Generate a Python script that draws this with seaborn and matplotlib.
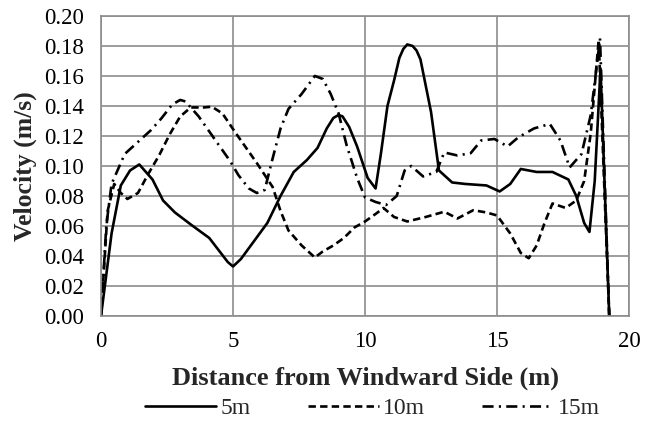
import matplotlib
matplotlib.use("Agg")
import matplotlib.pyplot as plt
import seaborn as sns
import pandas as pd

# Velocity profiles across the building at three heights
x_5m = [0.0, 0.4, 0.75, 1.1, 1.45, 1.95, 2.35, 2.8, 3.4, 4.1, 4.45, 4.8, 5.0, 5.3,
        5.8, 6.3, 6.8, 7.3, 7.8, 8.2, 8.55, 8.8, 9.0, 9.15, 9.4, 9.7, 10.1, 10.4,
        10.6, 10.85, 11.1, 11.3, 11.45, 11.6, 11.8, 11.95, 12.1, 12.5, 12.8, 13.3,
        13.8, 14.6, 15.1, 15.5, 15.9, 16.5, 17.1, 17.7, 18.0, 18.3, 18.5, 18.7,
        18.92, 19.25]
v_5m = [0.0, 0.055, 0.087, 0.097, 0.101, 0.091, 0.077, 0.069, 0.061, 0.052, 0.044,
        0.036, 0.033, 0.038, 0.050, 0.062, 0.080, 0.096, 0.104, 0.112, 0.125, 0.132,
        0.134, 0.133, 0.126, 0.113, 0.092, 0.085, 0.108, 0.140, 0.157, 0.172, 0.178,
        0.181, 0.180, 0.177, 0.171, 0.136, 0.097, 0.089, 0.088, 0.087, 0.083, 0.088,
        0.098, 0.096, 0.096, 0.091, 0.080, 0.062, 0.056, 0.090, 0.165, 0.0]

x_10m = [0.0, 0.25, 0.5, 0.75, 1.0, 1.4, 1.8, 2.2, 2.6, 3.0, 3.4, 3.9, 4.2, 4.6,
         5.1, 5.5, 5.9, 6.5, 6.8, 7.1, 7.6, 8.1, 8.4, 8.8, 9.2, 9.6, 10.0, 10.4,
         10.7, 11.1, 11.6, 12.3, 13.0, 13.5, 14.1, 14.6, 15.0, 15.5, 15.9, 16.2,
         16.5, 16.8, 17.1, 17.6, 18.0, 18.3, 18.55, 18.85, 19.25]
v_10m = [0.0, 0.070, 0.088, 0.082, 0.078, 0.082, 0.095, 0.107, 0.121, 0.133, 0.139,
         0.139, 0.1395, 0.135, 0.122, 0.112, 0.102, 0.086, 0.070, 0.057, 0.047, 0.039,
         0.043, 0.047, 0.052, 0.059, 0.063, 0.068, 0.072, 0.066, 0.063, 0.066, 0.0695,
         0.065, 0.0705, 0.069, 0.067, 0.055, 0.042, 0.0385, 0.047, 0.062, 0.075, 0.072,
         0.077, 0.090, 0.122, 0.184, 0.0]

x_15m = [0.0, 0.2, 0.4, 0.7, 0.9, 1.4, 1.9, 2.3, 2.7, 3.0, 3.2, 3.7, 4.1, 4.5, 4.9,
         5.2, 5.6, 5.9, 6.2, 6.5, 6.8, 7.1, 7.6, 8.1, 8.4, 8.7, 9.0, 9.3, 9.7, 10.0,
         10.4, 10.8, 11.2, 11.5, 11.75, 12.2, 12.7, 13.0, 13.5, 14.0, 14.4, 14.9,
         15.4, 15.8, 16.4, 17.0, 17.4, 17.75, 18.2, 18.55, 18.9, 19.25]
v_15m = [0.0, 0.060, 0.088, 0.100, 0.108, 0.116, 0.124, 0.132, 0.141, 0.144, 0.143,
         0.133, 0.123, 0.113, 0.103, 0.094, 0.085, 0.082, 0.084, 0.105, 0.125, 0.138,
         0.148, 0.160, 0.158, 0.148, 0.135, 0.114, 0.092, 0.079, 0.076, 0.074, 0.080,
         0.097, 0.100, 0.093, 0.096, 0.109, 0.107, 0.1085, 0.117, 0.118, 0.113, 0.119,
         0.125, 0.128, 0.117, 0.099, 0.108, 0.134, 0.185, 0.0]

series_names = ["5m", "10m", "15m"]
x_ticks = [0, 5, 10, 15, 20]
y_ticks = [0.00, 0.02, 0.04, 0.06, 0.08, 0.10, 0.12, 0.14, 0.16, 0.18, 0.20]

frames = []
for name, xs, vs in zip(series_names, [x_5m, x_10m, x_15m], [v_5m, v_10m, v_15m]):
    frames.append(pd.DataFrame({"x": xs, "v": vs, "Height": name}))
df = pd.concat(frames, ignore_index=True)

sns.set_theme(style="white")
plt.rcParams["font.family"] = ["Liberation Serif", "DejaVu Serif"]

fig = plt.figure(figsize=(6.58, 4.25), dpi=100)
ax = fig.add_axes([0.1535, 0.2565, 0.8025, 0.706])

dash_styles = {"5m": "", "10m": (2.8, 1.6), "15m": (4.2, 2.0, 0.8, 2.0)}
sns.lineplot(data=df, x="x", y="v", hue="Height", style="Height",
             palette={n: "black" for n in series_names}, dashes=dash_styles,
             estimator=None, sort=False, linewidth=1.9, ax=ax, legend=True)

ax.set_xlim(0, 20)
ax.set_ylim(0, 0.20)
ax.set_xticks(x_ticks)
ax.set_xticklabels([str(t) for t in x_ticks])
ax.set_yticks(y_ticks)
ax.set_yticklabels([f"{t:.2f}" for t in y_ticks])

grid_col = "#8c8c8c"
ax.grid(True, color=grid_col, linewidth=1.2)
ax.set_axisbelow(True)
for sp in ax.spines.values():
    sp.set_color(grid_col)
    sp.set_linewidth(1.2)
ax.tick_params(axis="both", which="major", direction="out", length=4, width=1.2,
               color=grid_col, labelsize=16.5, labelcolor="black", pad=8)
ax.tick_params(axis="x", pad=7)

ax.set_xlabel("Distance from Windward Side (m)", fontsize=19, fontweight="bold",
              labelpad=10)
ax.set_ylabel("Velocity (m/s)", fontsize=18.5, fontweight="bold", labelpad=5)

handles, labels = ax.get_legend_handles_labels()
ax.get_legend().remove()
fig.legend(handles, labels, loc="center", bbox_to_anchor=(0.566, 0.040), ncol=3,
           frameon=False, fontsize=17, handlelength=3.0, handletextpad=0.2,
           columnspacing=2.4)

fig.savefig("out.png", dpi=100)
